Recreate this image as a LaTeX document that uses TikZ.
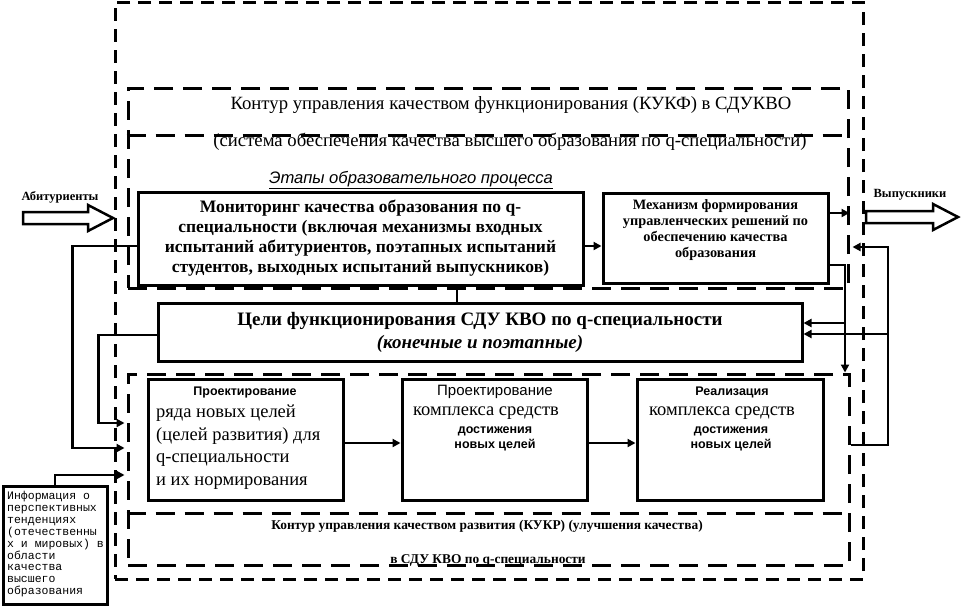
\documentclass[tikz,border=0pt]{standalone}
\usepackage{fontspec}
\setmainfont{Liberation Serif}
\setsansfont{Liberation Sans}
\setmonofont{Liberation Mono}
\usetikzlibrary{arrows.meta}
\begin{document}
\begin{tikzpicture}[x=1pt,y=-1pt,
  box/.style={draw, line width=3pt, rectangle, inner sep=0pt, align=center},
  outerd/.style={draw, line width=3pt, dash pattern=on 13pt off 8pt, inner sep=0pt},
  contd/.style={draw, line width=3pt, dash pattern=on 19pt off 10pt, inner sep=0pt},
  conn/.style={line width=2.5pt},
  arr/.style={line width=2.5pt, -{Triangle[length=8pt,width=8pt]}},
  hollow/.style={draw, line width=2.5pt, fill=white},
  lbl/.style={inner sep=0pt, align=center},
  serifbig/.style={font=\fontsize{18.7}{20}\selectfont},
  sansb/.style={font=\sffamily\bfseries\fontsize{12.5}{14}\selectfont},
  sansm/.style={font=\sffamily\fontsize{15}{17}\selectfont},
]
\useasboundingbox (0,0) rectangle (966,606);

% dashed contours
\node[outerd, minimum width=748pt, minimum height=577pt] (outer) at (489,290.5) {};
\node[contd, minimum width=720pt, minimum height=200pt] (KUKF) at (488,188) {};
\draw[contd] ([yshift=53pt]KUKF.west) -- ([yshift=53pt]KUKF.east);
\node[contd, minimum width=721pt, minimum height=191pt] (KUKR) at (488.5,469.5) {};
\draw[contd] ([yshift=-43.5pt]KUKR.west) -- ([yshift=-43.5pt]KUKR.east);

% header texts
\node[lbl, serifbig] (h1) at (511,105) {Контур управления качеством функционирования (КУКФ) в СДУКВО};
\node[lbl, serifbig] (h2) at (510,142) {(система обеспечения качества высшего образования по q-специальности)};
\node[lbl, font=\sffamily\itshape\fontsize{16.6}{18}\selectfont] (etapy) at (411,180) {\underline{Этапы образовательного процесса}};

% main boxes
\node[box, minimum width=445pt, minimum height=93pt, font=\bfseries\fontsize{17.5}{20}\selectfont] (Mon) at (360.5,238.5)
  {Мониторинг качества образования по q-\\специальности (включая механизмы входных\\испытаний абитуриентов, поэтапных испытаний\\студентов, выходных испытаний выпускников)};
\node[box, minimum width=225pt, minimum height=90pt] (Mech) at (715.5,238) {};
\node[lbl, font=\bfseries\fontsize{14.3}{16}\selectfont] (Mecht) at (715.5,230)
  {Механизм формирования\\управленческих решений по\\обеспечению качества\\образования};
\node[box, minimum width=644pt, minimum height=58pt, font=\bfseries\fontsize{19}{23}\selectfont] (Goals) at (480,332)
  {Цели функционирования СДУ КВО по q-специальности\\\itshape(конечные и поэтапные)};

\node[box, minimum width=195pt, minimum height=121pt] (B1) at (245.5,439.5) {};
\node[box, minimum width=185pt, minimum height=121pt] (B2) at (494.5,439.5) {};
\node[box, minimum width=186pt, minimum height=121pt] (B3) at (730,439.5) {};

\node[lbl, sansb] (B1t) at (245,392) {Проектирование};
\node[lbl, anchor=north west, align=left, font=\fontsize{18.5}{22.5}\selectfont] (B1b) at (156,405)
  {ряда новых целей\\(целей развития) для\\q-специальности\\и их нормирования};

\node[lbl, sansm] (B2t) at (495,392) {Проектирование};
\node[lbl, font=\fontsize{18.5}{20}\selectfont] (B2m) at (486,413) {комплекса средств};
\node[lbl, font=\sffamily\bfseries\fontsize{12.5}{15.5}\selectfont] (B2b) at (495,439) {достижения\\новых целей};

\node[lbl, sansb] (B3t) at (732,392) {Реализация};
\node[lbl, font=\fontsize{18.5}{20}\selectfont] (B3m) at (722,413) {комплекса средств};
\node[lbl, font=\sffamily\bfseries\fontsize{12.5}{15.5}\selectfont] (B3b) at (731,439) {достижения\\новых целей};

% KUKR labels
\node[lbl, font=\bfseries\fontsize{13.4}{15}\selectfont] (k1) at (487,526) {Контур управления качеством развития (КУКР) (улучшения качества)};
\node[lbl, anchor=base, font=\bfseries\fontsize{13.4}{15}\selectfont] (k2) at (488,563) {в СДУ КВО по q-специальности};

% info box
\node[box, minimum width=104pt, minimum height=118pt] (Info) at (55,545) {};
\node[lbl, anchor=north west, align=left, font=\ttfamily\fontsize{11.5}{11.9}\selectfont] (Infot) at (7,491)
  {Информация о\\перспективных\\тенденциях\\(отечественны\\х и мировых) в\\области\\качества\\высшего\\образования};

% in / out hollow arrows
\draw[hollow] (23,212) -- (88,212) -- (88,205) -- (113,218) -- (88,231) -- (88,224) -- (23,224) -- cycle;
\node[lbl, font=\bfseries\fontsize{12.5}{14}\selectfont] (abit) at (60,197) {Абитуриенты};
\draw[hollow] (866,211) -- (933,211) -- (933,204) -- (958,217) -- (933,230) -- (933,223) -- (866,223) -- cycle;
\node[lbl, font=\bfseries\fontsize{12.5}{14}\selectfont] (vyp) at (910,195) {Выпускники};

% trunk columns and connector ends
\coordinate (trunkA) at (845,300);
\coordinate (trunkB) at (888,300);
\coordinate (fbIn) at ([xshift=3pt,yshift=-59pt]KUKF.east);
\coordinate (fbOut) at ([yshift=24.5pt]KUKR.east);
\coordinate (monL) at ([yshift=-7.5pt]Mon.west);
\coordinate (goalsL) at ([yshift=-3pt]Goals.west);
\coordinate (inA) at ([yshift=21.5pt,xshift=-2pt]KUKR.west);
\coordinate (inB) at ([yshift=46.5pt,xshift=-2pt]KUKR.west);
\coordinate (inC) at ([yshift=-5.5pt,xshift=-2pt]KUKR.west);
\coordinate (goalsRa) at ([yshift=9pt]Goals.east);
\coordinate (goalsRb) at ([yshift=-2pt]Goals.east);
\coordinate (mechLo) at ([yshift=-27pt]Mech.east);
\coordinate (mechHi) at ([yshift=25pt]Mech.east);
\coordinate (monR) at ([yshift=-7.5pt]Mon.east);
\coordinate (goalsUp) at ([xshift=-23pt]Goals.north);
\coordinate (b1R) at ([yshift=-3.5pt]B1.east);
\coordinate (b2R) at ([yshift=-3.5pt]B2.east);

% connectors
\draw[arr] (monR) -- (monR -| Mech.west);
\draw[arr] (mechHi) -- (mechHi -| KUKF.east);
\draw[arr] (mechLo) -| (trunkA |- KUKR.north);
\draw[arr] (goalsRa -| trunkA) -- (goalsRa);
\draw[arr] (fbOut) -- (fbOut -| trunkB) -- (trunkB |- fbIn) -- (fbIn);
\draw[arr] (goalsRb -| trunkB) -- (goalsRb);
\draw[conn] (goalsUp) -- (goalsUp |- Mon.south);

\draw[arr] (monL) -- ++(-64,0) |- (inA);
\draw[arr] (goalsL) -- ++(-58,0) |- (inB);
\draw[arr] (Info.north) |- (inC);

\draw[arr] (b1R) -- (b1R -| B2.west);
\draw[arr] (b2R) -- (b2R -| B3.west);
\end{tikzpicture}
\end{document}
